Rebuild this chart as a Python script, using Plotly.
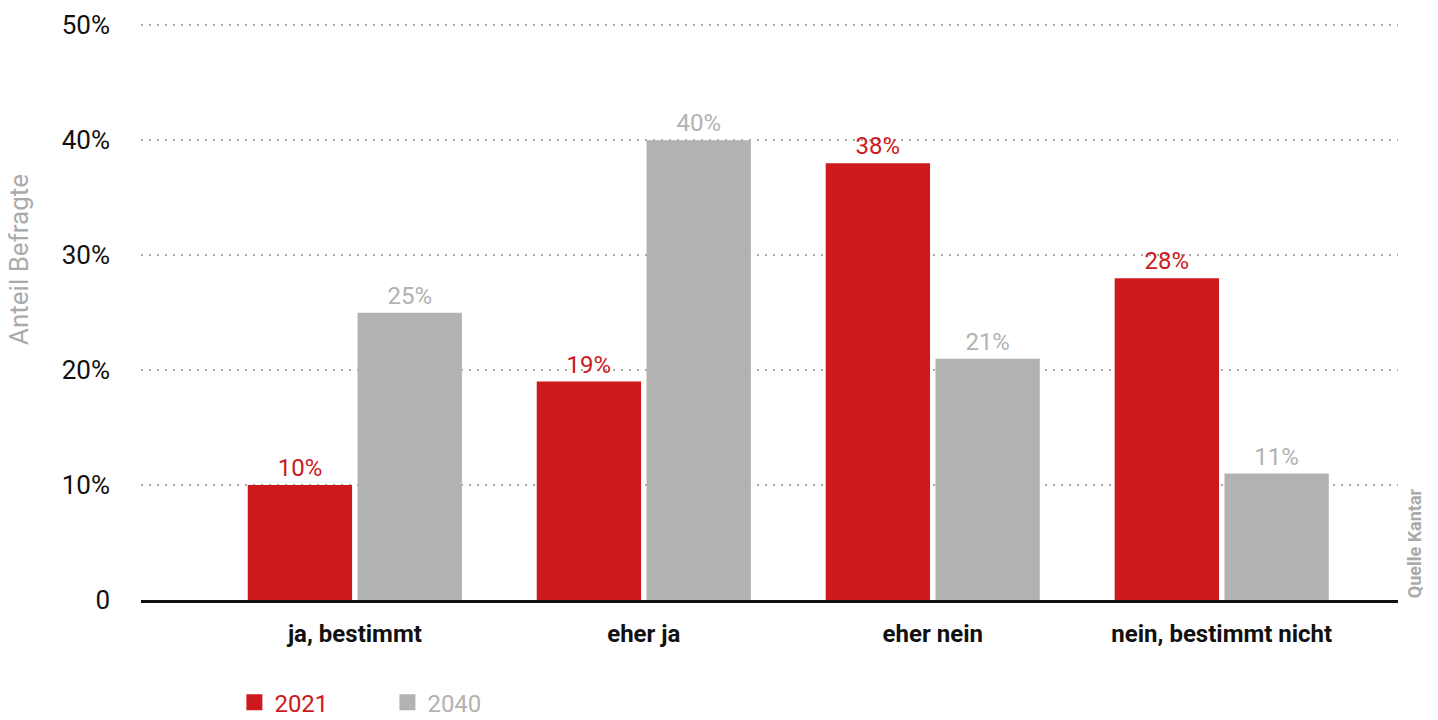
import plotly.graph_objects as go

# Survey answers and share of respondents per year (percent)
categories = ["ja, bestimmt", "eher ja", "eher nein", "nein, bestimmt nicht"]
values_2021 = [10, 19, 38, 28]
values_2040 = [25, 40, 21, 11]
series_names = ["2021", "2040"]
y_ticks = [0, 10, 20, 30, 40, 50]
y_tick_labels = ["0", "10%", "20%", "30%", "40%", "50%"]

RED = "#cd181c"
GRAY = "#b2b2b2"
FONT = "Roboto"

fig = go.Figure()
for name, vals, color in [(series_names[0], values_2021, RED),
                          (series_names[1], values_2040, GRAY)]:
    fig.add_trace(go.Bar(
        x=categories,
        y=vals,
        name=name,
        legendgroup=name,
        showlegend=False,
        marker=dict(color=color, line=dict(width=0)),
        text=[f"{v}%" for v in vals],
        textposition="outside",
        textfont=dict(family=FONT, size=24, color=color),
        cliponaxis=False,
        hoverinfo="skip",
    ))
    # legend entry with a larger square swatch
    fig.add_trace(go.Scatter(
        x=[None],
        y=[None],
        mode="markers",
        name=f"<span style='color:{color}'>{name}</span>",
        legendgroup=name,
        marker=dict(symbol="square", size=20, color=color, line=dict(width=0)),
        hoverinfo="skip",
    ))

fig.update_layout(
    width=1438,
    height=720,
    margin=dict(l=141, r=40, t=23, b=120, autoexpand=False),
    paper_bgcolor="white",
    plot_bgcolor="white",
    font=dict(family=FONT, size=24, color="#111111"),
    barmode="group",
    bargap=0.24,
    bargroupgap=0.05,
    showlegend=True,
    legend=dict(
        orientation="h",
        x=0.163,
        xref="container",
        xanchor="left",
        y=0.024,
        yref="container",
        yanchor="middle",
        font=dict(family=FONT, size=24),
        entrywidth=108,
        entrywidthmode="pixels",
        itemsizing="trace",
        itemclick=False,
        itemdoubleclick=False,
    ),
    xaxis=dict(
        type="category",
        range=[-0.74, 3.61],
        showgrid=False,
        showline=True,
        linecolor="#111111",
        linewidth=2.5,
        ticks="",
        ticklabelstandoff=10,
        tickfont=dict(family=FONT, size=24, color="#111111", weight="bold"),
        zeroline=False,
    ),
    yaxis=dict(
        range=[0, 50.2],
        tickvals=y_ticks,
        ticktext=y_tick_labels,
        showgrid=True,
        gridcolor="#aaaaaa",
        gridwidth=2,
        griddash="2px,6px",
        zeroline=False,
        showline=False,
        ticks="",
        ticklabelstandoff=30,
        tickfont=dict(family=FONT, size=26, color="#111111"),
    ),
    annotations=[
        dict(
            text="Anteil Befragte",
            textangle=-90,
            xref="paper", yref="paper",
            x=-0.111, y=0.59,
            xanchor="left", yanchor="middle",
            showarrow=False,
            font=dict(family=FONT, size=26, color="#aaaaaa"),
        ),
        dict(
            text="<b>Quelle Kantar</b>",
            textangle=-90,
            xref="paper", yref="paper",
            x=1.003, y=0.0,
            xanchor="left", yanchor="bottom",
            showarrow=False,
            font=dict(family=FONT, size=18, color="#aaaaaa"),
        ),
    ],
)

fig.write_html("out.html")
